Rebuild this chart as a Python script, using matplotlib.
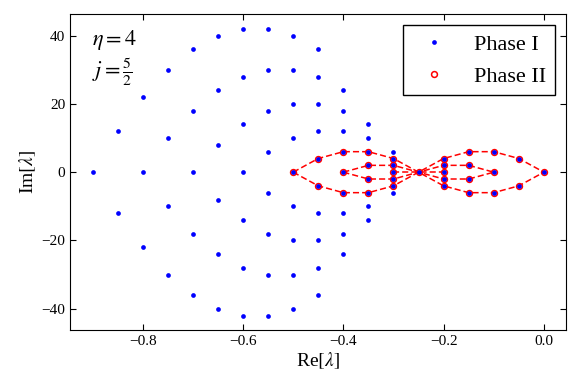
import matplotlib
matplotlib.use("Agg")
import matplotlib.pyplot as plt

plt.rcParams['font.family'] = ['Liberation Serif', 'DejaVu Serif']
plt.rcParams['mathtext.fontset'] = 'stix'
plt.rcParams['axes.unicode_minus'] = True

# Phase I: eigenvalue columns (Re value -> list of Im values)
phase1_re = [-0.90, -0.85, -0.80, -0.75, -0.70, -0.65, -0.60, -0.55, -0.50,
             -0.45, -0.40, -0.35, -0.30, -0.25, -0.20, -0.15, -0.10, -0.05, 0.00]
phase1_im = [
    [0],
    [12, -12],
    [22, 0, -22],
    [30, 10, -10, -30],
    [36, 18, 0, -18, -36],
    [40, 24, 8, -8, -24, -40],
    [42, 28, 14, 0, -14, -28, -42],
    [42, 30, 18, 6, -6, -18, -30, -42],
    [40, 30, 20, 10, 0, -10, -20, -30, -40],
    [36, 28, 20, 12, 4, -4, -12, -20, -28, -36],
    [24, 18, 12, 6, 0, -6, -12, -18, -24],
    [14, 10, 6, 2, -2, -6, -10, -14],
    [6, 4, 2, 0, -2, -4, -6],
    [0],
    [4, 2, 0, -2, -4],
    [6, 2, -2, -6],
    [6, 0, -6],
    [4, -4],
    [0],
]

# Phase II branches (dashed red paths)
outer_upper_re = [-0.50, -0.45, -0.40, -0.35, -0.30, -0.25, -0.20, -0.15, -0.10, -0.05, 0.00]
outer_upper_im = [0, 4, 6, 6, 4, 0, 4, 6, 6, 4, 0]
outer_lower_re = [-0.50, -0.45, -0.40, -0.35, -0.30, -0.25, -0.20, -0.15, -0.10, -0.05, 0.00]
outer_lower_im = [0, -4, -6, -6, -4, 0, -4, -6, -6, -4, 0]
inner_upper_re = [-0.40, -0.35, -0.30, -0.25, -0.20, -0.15, -0.10]
inner_upper_im = [0, 2, 2, 0, 2, 2, 0]
inner_lower_re = [-0.40, -0.35, -0.30, -0.25, -0.20, -0.15, -0.10]
inner_lower_im = [0, -2, -2, 0, -2, -2, 0]
middle_re = [-0.30, -0.25, -0.20]
middle_im = [0, 0, 0]

branches = [
    (outer_upper_re, outer_upper_im),
    (outer_lower_re, outer_lower_im),
    (inner_upper_re, inner_upper_im),
    (inner_lower_re, inner_lower_im),
    (middle_re, middle_im),
]

fig = plt.figure(figsize=(5.81, 3.88), dpi=100)
ax = fig.add_axes([0.1205, 0.1495, 0.8545, 0.8135])

# Phase II dashed branches
for bre, bim in branches:
    ax.plot(bre, bim, '--', color='red', lw=1.1, dashes=(4, 2), zorder=1)

# Phase II points (unique vertices)
p2 = sorted(set(zip(sum([b[0] for b in branches], []), sum([b[1] for b in branches], []))))
p2_re = [p[0] for p in p2]
p2_im = [p[1] for p in p2]
ax.plot(p2_re, p2_im, 'o', ls='none', mfc='none', mec='red', ms=4.2, mew=1.1,
        zorder=2, label='Phase II')

# Phase I points
xs, ys = [], []
for r, ims in zip(phase1_re, phase1_im):
    for v in ims:
        xs.append(r)
        ys.append(v)
ax.plot(xs, ys, 'o', ls='none', color='blue', ms=3.4, mew=0, zorder=3, label='Phase I')

ax.set_xlim(-0.945, 0.045)
ax.set_ylim(-46.2, 46.2)
ax.set_xticks([-0.8, -0.6, -0.4, -0.2, 0.0])
ax.set_yticks([-40, -20, 0, 20, 40])
ax.tick_params(direction='in', top=True, right=True, labelsize=11, length=4)

ax.set_xlabel(r'Re$[\lambda]$', fontsize=14, labelpad=2)
ax.set_ylabel(r'Im$[\lambda]$', fontsize=14, labelpad=2)

ax.text(0.045, 0.92, r'$\eta=4$', transform=ax.transAxes, fontsize=16, va='center')
ax.text(0.045, 0.815, r'$j=\frac{5}{2}$', transform=ax.transAxes, fontsize=16, va='center')

h, l = ax.get_legend_handles_labels()
leg = ax.legend([h[1], h[0]], [l[1], l[0]], loc='upper right', fontsize=16,
                numpoints=1, fancybox=False, framealpha=1, edgecolor='black')
leg.get_frame().set_linewidth(1.0)

fig.savefig('out.png', dpi=100)
